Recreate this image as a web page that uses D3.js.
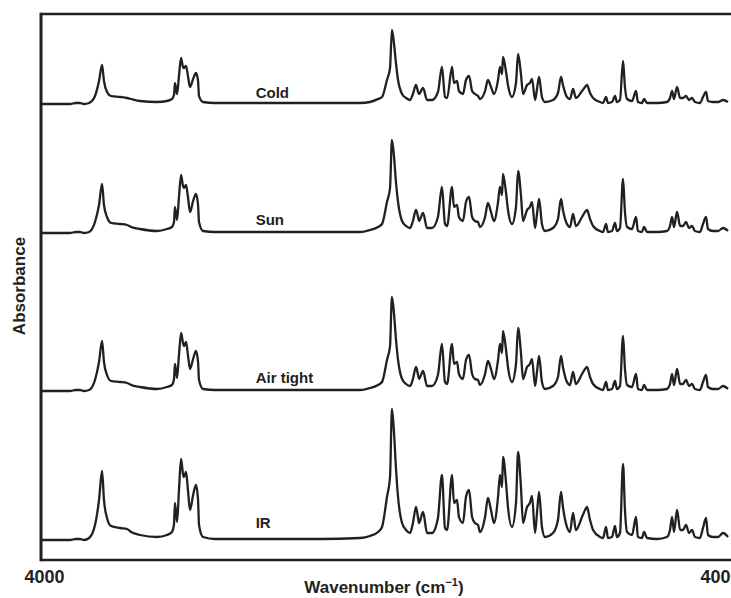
<!DOCTYPE html>
<html>
<head>
<meta charset="utf-8">
<script src="https://cdn.jsdelivr.net/npm/d3@7"></script>
<style>
  body { margin: 0; background: #fff; }
  text { font-family: Arial, "Liberation Sans", sans-serif; font-weight: bold; fill: #231f20; }
</style>
</head>
<body>
<div id="chart"></div>
<script>
// Wavenumber grid (cm-1)
const wavenumbers = [4000,3848,3817,3796,3775,3748,3717,3696,3680,3670,
  3654,3633,3586,3549,3528,3481,3392,3340,3314,3303,
  3298,3287,3277,3266,3256,3251,3240,3230,3219,3203,
  3188,3177,3172,3151,3088,2852,2538,2328,2276,2234,
  2213,2187,2171,2161,2150,2140,2129,2108,2087,2066,
  2051,2035,2024,2019,1998,1977,1951,1920,1899,1883,
  1872,1846,1836,1820,1810,1789,1773,1757,1741,1726,
  1710,1700,1673,1658,1642,1626,1605,1595,1584,1579,
  1563,1553,1532,1511,1500,1485,1474,1453,1438,1427,
  1411,1401,1390,1375,1359,1317,1291,1275,1265,1244,
  1228,1212,1197,1165,1149,1139,1123,1107,1071,1055,
  1039,1029,1008,992,982,966,950,940,929,903,
  882,872,851,840,824,772,720,704,693,683,
  667,651,636,620,604,589,573,547,531,515,
  505,479,452,426,400];

// Absorbance above each trace's own baseline
const absCold = [0,0,0.01,0.01,0,0.01,0.08,0.23,0.39,0.23,
  0.12,0.08,0.07,0.06,0.05,0.03,0.02,0.03,0.05,0.09,
  0.21,0.10,0.28,0.46,0.37,0.36,0.38,0.28,0.17,0.25,
  0.31,0.23,0.08,0.02,0.01,0.01,0.01,0.01,0.02,0.05,
  0.07,0.24,0.36,0.74,0.60,0.41,0.24,0.10,0.06,0.04,
  0.10,0.19,0.12,0.10,0.16,0.04,0.04,0.12,0.37,0.07,
  0.06,0.37,0.21,0.23,0.13,0.10,0.24,0.28,0.13,0.10,
  0.08,0.05,0.13,0.24,0.17,0.10,0.24,0.37,0.30,0.47,
  0.32,0.19,0.07,0.21,0.50,0.30,0.10,0.19,0.21,0.25,
  0.04,0.15,0.27,0.07,0.02,0.04,0.11,0.27,0.19,0.07,
  0.05,0.15,0.06,0.13,0.17,0.19,0.11,0.06,0.02,0.01,
  0.07,0.01,0.02,0.08,0.02,0.04,0.43,0.17,0.05,0.03,
  0.13,0.02,0.01,0.05,0.01,0.01,0.02,0.06,0.13,0.05,
  0.17,0.06,0.06,0.08,0.04,0.06,0.02,0.01,0.07,0.12,
  0.03,0.02,0.02,0.04,0.02];

const absSun = [0,0,0.01,0.01,0,0.01,0.11,0.28,0.49,0.28,
  0.16,0.10,0.09,0.08,0.06,0.04,0.02,0.04,0.06,0.11,
  0.26,0.13,0.36,0.58,0.47,0.45,0.48,0.36,0.21,0.32,
  0.39,0.28,0.11,0.02,0.01,0.01,0.01,0.01,0.03,0.06,
  0.09,0.31,0.45,0.93,0.76,0.51,0.31,0.12,0.07,0.05,
  0.12,0.23,0.16,0.12,0.20,0.05,0.05,0.16,0.46,0.09,
  0.07,0.46,0.26,0.28,0.16,0.12,0.31,0.36,0.16,0.12,
  0.11,0.06,0.16,0.30,0.21,0.12,0.31,0.46,0.38,0.59,
  0.40,0.23,0.09,0.26,0.62,0.38,0.12,0.23,0.26,0.31,
  0.05,0.19,0.34,0.09,0.02,0.05,0.14,0.34,0.23,0.09,
  0.06,0.19,0.07,0.16,0.21,0.23,0.14,0.07,0.02,0.01,
  0.09,0.01,0.02,0.10,0.02,0.05,0.54,0.21,0.06,0.04,
  0.16,0.02,0.01,0.06,0.01,0.01,0.02,0.07,0.16,0.06,
  0.21,0.07,0.07,0.11,0.05,0.07,0.02,0.01,0.09,0.16,
  0.04,0.02,0.02,0.05,0.02];

const absAirTight = [0,0,0.01,0.01,0,0.01,0.11,0.29,0.50,0.29,
  0.16,0.10,0.09,0.08,0.06,0.04,0.02,0.04,0.06,0.12,
  0.27,0.13,0.36,0.58,0.48,0.45,0.49,0.36,0.22,0.32,
  0.40,0.29,0.11,0.02,0.01,0.01,0.01,0.01,0.03,0.06,
  0.09,0.31,0.45,0.94,0.77,0.52,0.31,0.12,0.07,0.05,
  0.12,0.24,0.16,0.12,0.20,0.05,0.05,0.16,0.47,0.09,
  0.07,0.47,0.27,0.29,0.17,0.12,0.31,0.36,0.17,0.12,
  0.11,0.06,0.17,0.30,0.22,0.12,0.31,0.47,0.38,0.60,
  0.41,0.24,0.09,0.27,0.63,0.38,0.12,0.24,0.27,0.32,
  0.05,0.19,0.35,0.09,0.02,0.05,0.14,0.35,0.24,0.09,
  0.06,0.19,0.07,0.17,0.22,0.24,0.14,0.07,0.02,0.01,
  0.09,0.01,0.02,0.10,0.02,0.05,0.55,0.22,0.06,0.04,
  0.17,0.02,0.01,0.06,0.01,0.01,0.02,0.07,0.17,0.06,
  0.22,0.07,0.07,0.11,0.05,0.07,0.02,0.01,0.09,0.16,
  0.04,0.02,0.02,0.05,0.02];

const absIR = [0,0,0.01,0.01,0,0.02,0.15,0.40,0.69,0.40,
  0.22,0.14,0.12,0.11,0.08,0.05,0.03,0.05,0.08,0.16,
  0.37,0.18,0.50,0.81,0.66,0.63,0.68,0.50,0.30,0.45,
  0.55,0.40,0.15,0.03,0.01,0.01,0.01,0.02,0.04,0.08,
  0.13,0.43,0.63,1.31,1.07,0.72,0.43,0.17,0.10,0.07,
  0.17,0.33,0.22,0.17,0.28,0.07,0.07,0.22,0.65,0.12,
  0.10,0.65,0.37,0.40,0.23,0.17,0.43,0.50,0.23,0.17,
  0.15,0.08,0.23,0.42,0.30,0.17,0.43,0.65,0.53,0.83,
  0.57,0.33,0.13,0.37,0.88,0.53,0.17,0.33,0.37,0.44,
  0.07,0.27,0.48,0.13,0.03,0.07,0.20,0.48,0.33,0.13,
  0.08,0.27,0.10,0.23,0.30,0.33,0.20,0.10,0.03,0.02,
  0.13,0.02,0.03,0.14,0.03,0.07,0.76,0.30,0.08,0.05,
  0.23,0.03,0.02,0.08,0.02,0.01,0.03,0.10,0.23,0.08,
  0.30,0.10,0.10,0.15,0.07,0.10,0.03,0.02,0.12,0.22,
  0.05,0.03,0.03,0.07,0.03];

const traceNames = ["Cold", "Sun", "Air tight", "IR"];
const traceValues = [absCold, absSun, absAirTight, absIR];
const offsets = [4.56, 3.27, 1.69, 0.20];   // vertical stacking of the traces
const xTicks = [4000, 400];

// Set the dimensions and margins of the graph
var W = 731, H = 598;
var margin = { top: 14, right: 3, bottom: 38, left: 41 };

var svg = d3.select("#chart")
    .append("svg")
    .attr("width", W)
    .attr("height", H);

var x = d3.scaleLinear()
    .domain([4000, 400])
    .range([margin.left, W - margin.right]);

var y = d3.scaleLinear()
    .domain([0, 5.46])
    .range([H - margin.bottom, margin.top]);

var ink = "#231f20";

// Frame: left, top and bottom lines (open on the right)
svg.append("line")
    .attr("x1", margin.left).attr("x2", W)
    .attr("y1", margin.top).attr("y2", margin.top)
    .attr("stroke", ink).attr("stroke-width", 2.5);

svg.append("line")
    .attr("x1", margin.left).attr("x2", margin.left)
    .attr("y1", margin.top - 1.25).attr("y2", H - margin.bottom + 1.25)
    .attr("stroke", ink).attr("stroke-width", 3);

// X axis
var xAxis = svg.append("g")
    .attr("transform", "translate(0," + (H - margin.bottom) + ")")
    .call(d3.axisBottom(x).tickValues(xTicks).tickSize(0).tickPadding(10).tickFormat(d3.format("d")));

xAxis.select(".domain").remove();
svg.append("line")
    .attr("x1", margin.left).attr("x2", W)
    .attr("y1", H - margin.bottom).attr("y2", H - margin.bottom)
    .attr("stroke", ink).attr("stroke-width", 2.5);

xAxis.selectAll("text")
    .style("font-size", "18px")
    .style("font-family", "Arial, 'Liberation Sans', sans-serif")
    .style("font-weight", "bold")
    .attr("fill", ink)
    .attr("text-anchor", d => d === 400 ? "end" : "middle")
    .attr("dx", d => d === 400 ? 2 : 3);

// Axis titles
var xTitle = svg.append("text")
    .attr("x", 384)
    .attr("y", 593)
    .attr("text-anchor", "middle")
    .style("font-size", "17px");
xTitle.append("tspan").text("Wavenumber (cm");
xTitle.append("tspan").attr("dy", -7).style("font-size", "11px").text("\u22121");
xTitle.append("tspan").attr("dy", 7).text(")");

svg.append("text")
    .attr("transform", "translate(25,286) rotate(-90)")
    .attr("text-anchor", "middle")
    .style("font-size", "17px")
    .text("Absorbance");

// Spectra
traceValues.forEach(function (vals, i) {
    var line = d3.line()
        .x((d, j) => x(wavenumbers[j]))
        .y(d => y(d + offsets[i]))
        .curve(d3.curveMonotoneX);

    svg.append("path")
        .datum(vals)
        .attr("fill", "none")
        .attr("stroke", ink)
        .attr("stroke-width", 2.3)
        .attr("stroke-linejoin", "round")
        .attr("d", line);

    svg.append("text")
        .attr("x", x(2875))
        .attr("y", y(offsets[i]) - (i === 3 ? 12 : (i === 0 ? 6 : 8)))
        .style("font-size", "15px")
        .text(traceNames[i]);
});
</script>
</body>
</html>
